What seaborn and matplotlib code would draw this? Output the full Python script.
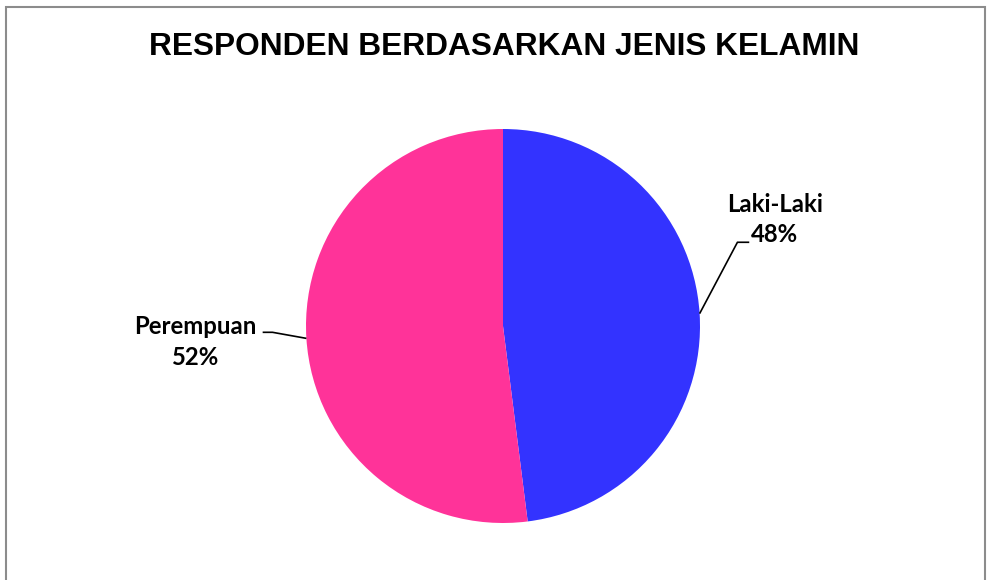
import matplotlib
matplotlib.use("Agg")
from matplotlib import pyplot as plt
from matplotlib.patches import Rectangle
import numpy as np
import seaborn as sns

# data
categories = ["Laki-Laki", "Perempuan"]
shares = [48, 52]
colors = ["#3333FF", "#FF3399"]
title = "RESPONDEN BERDASARKAN JENIS KELAMIN"

sns.set_theme(style="white")
plt.rcParams['font.family'] = ['Liberation Sans', 'DejaVu Sans']

fig = plt.figure(figsize=(9.88, 5.80), dpi=100)

# outer chart border like the spreadsheet chart area
fig.patches.append(Rectangle((6 / 988, -0.05), 979 / 988, 1 - 7 / 580 + 0.05,
                             transform=fig.transFigure, fill=False,
                             edgecolor="#8c8c8c", linewidth=1.5))

fig.text(504 / 988, 1 - 47 / 580, title, ha="center", va="center",
         fontsize=22.8, fontweight="bold", color="black")

r_px = 197
cx, cy = 503, 326
ax = fig.add_axes([(cx - r_px) / 988, (580 - cy - r_px) / 580, 2 * r_px / 988, 2 * r_px / 580])
wedges, _ = ax.pie(shares, colors=colors, startangle=90, counterclock=False,
                   radius=1.0, wedgeprops=dict(linewidth=0))
ax.set_xlim(-1, 1)
ax.set_ylim(-1, 1)
ax.set_aspect("equal")
ax.axis("off")

# label placements (text centre, elbow, line end) in radius units
label_pos = [((1.38, 0.54), (1.19, 0.425), (1.25, 0.425)),
             ((-1.563, -0.081), (-1.17, -0.032), (-1.22, -0.032))]

lab_font = dict(family=['Lato', 'DejaVu Sans'], fontsize=17.2, fontweight="bold", color="black")
for w, name, val, (tpos, elbow, lend) in zip(wedges, categories, shares, label_pos):
    mid = np.deg2rad((w.theta1 + w.theta2) / 2)
    px, py = np.cos(mid), np.sin(mid)
    ax.plot([px, elbow[0], lend[0]], [py, elbow[1], lend[1]], color="black",
            lw=1.2, clip_on=False, solid_capstyle="butt")
    ax.text(tpos[0], tpos[1], f"{name}\n{val}%", ha="center", va="center",
            linespacing=1.38, **lab_font)

fig.savefig("out.png", dpi=100, facecolor="white")
